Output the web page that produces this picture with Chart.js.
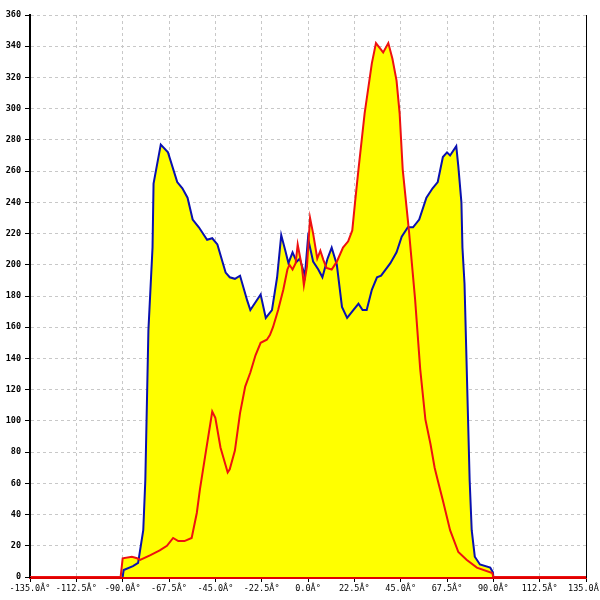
<!DOCTYPE html>
<html>
<head>
<meta charset="utf-8">
<script src="https://cdn.jsdelivr.net/npm/chart.js@4.4.0/dist/chart.umd.min.js"></script>
<style>
  html, body { margin: 0; padding: 0; background: #fff; }
  #wrap { width: 600px; height: 600px; }
</style>
</head>
<body>
<div id="wrap"><canvas id="chart"></canvas></div>
<script>
// angle (deg) / count pairs
const blueAngles = [-90, -89.5, -85, -82.5, -80, -79, -77.5, -75.5, -75, -71.5, -68, -63.5, -61, -58.5, -56, -53, -49, -46.5, -44, -40, -38, -35.5, -33, -29.5, -28, -23, -20.5, -17.5, -15, -13, -11, -9.5, -7.5, -5.5, -4, -1.5, 0, 2.5, 5, 7, 9.5, 11.5, 14, 16.5, 19, 22, 24.5, 26.5, 28.5, 31, 33.5, 35.5, 40, 43, 45.5, 48.5, 51, 54, 57.5, 60.5, 63, 65.5, 67.5, 69, 72, 73, 74.5, 75, 76, 78.5, 79.5, 81, 83.5, 88.5, 89.8, 90];
const blueValues = [0, 4.5, 7, 9, 30, 62, 158, 211, 252, 277, 272, 253, 249, 243, 229, 224, 216, 217, 213, 195, 192, 191, 193, 177, 171, 181, 166, 171, 192, 219, 209, 201, 208, 202, 204, 193, 217, 202, 197, 192, 204, 211, 200, 173, 166, 171, 175, 171, 171, 184, 192, 193, 201, 208, 218, 224, 224, 229, 243, 249, 253, 269, 272, 270, 276, 263, 240, 211, 188, 62, 30, 13, 8, 6, 3, 0];

const redAngles = [-135, -91, -90, -85.5, -83, -81.5, -76.5, -72, -68.5, -65.5, -63, -60, -56.5, -54, -52.5, -50, -46.5, -45, -42.5, -39, -38, -35.5, -33, -30.5, -28, -25.5, -23, -20, -18.5, -17, -14.5, -12, -10, -9, -7.5, -6, -5, -3, -2, -0.5, 1, 2.5, 4.5, 6, 7.5, 9, 11.5, 14, 17, 19.5, 21.5, 23, 24.5, 27.5, 31, 33, 36.5, 39, 41, 43, 44.5, 46, 49, 52, 54.5, 57, 59.5, 61.5, 63, 65.5, 69, 73, 77, 82, 89.5, 90, 135];
const redValues = [0, 0, 12, 13, 12, 11, 14, 17, 20, 25, 23, 23, 25, 41, 56, 77, 106, 102, 83, 67, 69, 81, 105, 122, 131, 142, 150, 152, 155, 160, 171, 184, 197, 200, 197, 201, 213, 199, 187, 199, 230, 220, 204, 209, 203, 198, 197, 202, 211, 215, 222, 242, 261, 297, 329, 342, 336, 342, 332, 318, 297, 261, 222, 178, 133, 101, 85, 70, 62, 49, 30, 16, 11, 6, 2.5, 0, 0];

const xTicks = [-135, -112.5, -90, -67.5, -45, -22.5, 0, 22.5, 45, 67.5, 90, 112.5, 135];

const toPoints = (xs, ys) => xs.map((x, i) => ({ x, y: ys[i] }));

new Chart(document.getElementById('chart'), {
  type: 'line',
  data: {
    datasets: [
      {
        data: toPoints(redAngles, redValues),
        borderColor: '#ee1111',
        borderWidth: 2,
        backgroundColor: '#ffff00',
        fill: 'origin',
        pointRadius: 0,
        tension: 0,
      },
      {
        data: toPoints(blueAngles, blueValues),
        borderColor: '#0a10b0',
        borderWidth: 2,
        backgroundColor: '#ffff00',
        fill: 'origin',
        pointRadius: 0,
        tension: 0,
      },
    ],
  },
  options: {
    responsive: true,
    maintainAspectRatio: false,
    animation: false,
    layout: { padding: { top: 15, right: 0, left: 0, bottom: 0 } },
    plugins: {
      legend: { display: false },
      tooltip: { enabled: false },
      filler: { drawTime: 'beforeDatasetsDraw' },
    },
    scales: {
      x: {
        type: 'linear',
        min: -135,
        max: 135,
        afterBuildTicks: (axis) => { axis.ticks = xTicks.map((v) => ({ value: v })); },
        afterFit: (axis) => {
          axis.height = 23;
          axis.paddingLeft = 0;
          axis.paddingRight = 0;
        },
        ticks: {
          color: '#000',
          font: { family: 'DejaVu Sans Mono', size: 8.5 },
          maxRotation: 0,
          autoSkip: false,
          padding: 2,
          callback: (v) => `${v.toFixed(1)}Â°`,
        },
        grid: { color: '#c8c8c8', tickColor: '#000', tickLength: 5, tickBorderDash: [] },
        border: { color: '#e00000', width: 3, dash: [3, 3] },
      },
      y: {
        min: 0,
        max: 360,
        afterFit: (axis) => { axis.width = 30; },
        ticks: { stepSize: 20, color: '#000', font: { family: 'DejaVu Sans Mono', size: 8.5, weight: 'bold' }, padding: 4 },
        grid: { color: '#c8c8c8', tickColor: '#000', tickLength: 5, tickBorderDash: [] },
        border: { color: '#000', width: 2, dash: [3, 3] },
      },
      yRight: {
        position: 'right',
        min: 0,
        max: 360,
        afterFit: (axis) => { axis.width = 14; },
        ticks: { display: false },
        grid: { display: false },
        border: { display: true, color: '#000', width: 1 },
      },
    },
  },
});
</script>
</body>
</html>
